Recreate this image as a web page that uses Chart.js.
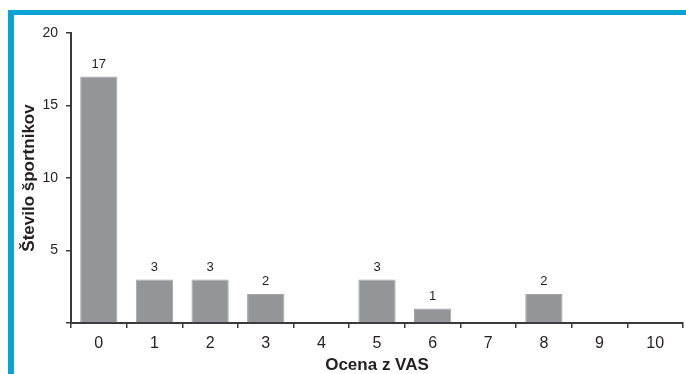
<!DOCTYPE html>
<html>
<head>
<meta charset="utf-8">
<script src="https://cdn.jsdelivr.net/npm/chart.js@4/dist/chart.umd.min.js"></script>
<style>
  html, body { margin: 0; padding: 0; background: #ffffff; }
  #wrap { position: relative; width: 686px; height: 374px; }
</style>
</head>
<body>
<div id="wrap"><canvas id="c" width="686" height="374"></canvas></div>
<script>
const categories = ['0', '1', '2', '3', '4', '5', '6', '7', '8', '9', '10'];
const counts = [17, 3, 3, 2, 0, 3, 1, 0, 2, 0, 0];
const yTicks = [0, 5, 10, 15, 20];
const xTitle = 'Ocena z VAS';
const yTitle = 'Število športnikov';

const TEXT = '#231f20';
const AXIS = '#3a3a3a';

const framePlugin = {
  id: 'frame',
  beforeDraw(chart) {
    const ctx = chart.ctx;
    ctx.save();
    ctx.fillStyle = '#0aa3d5';
    ctx.fillRect(8, 10, chart.width - 8, 5);
    ctx.fillRect(8, 10, 6, chart.height - 10);
    ctx.restore();
  }
};

const labelPlugin = {
  id: 'valueLabels',
  afterDatasetsDraw(chart) {
    const ctx = chart.ctx;
    const meta = chart.getDatasetMeta(0);
    ctx.save();
    ctx.fillStyle = TEXT;
    ctx.font = '13px "Liberation Sans", Arial, sans-serif';
    ctx.textAlign = 'center';
    ctx.textBaseline = 'alphabetic';
    meta.data.forEach((bar, i) => {
      const v = chart.data.datasets[0].data[i];
      if (!v) return;
      ctx.fillText(String(v), bar.x, bar.y - 9);
    });
    ctx.restore();
  }
};

new Chart(document.getElementById('c'), {
  type: 'bar',
  data: {
    labels: categories,
    datasets: [{
      data: counts,
      backgroundColor: '#939598',
      borderColor: '#a3a5a8',
      borderWidth: 1,
      barPercentage: 0.67,
      categoryPercentage: 1.0
    }]
  },
  options: {
    responsive: false,
    animation: false,
    devicePixelRatio: 1,
    layout: { padding: { left: 0, top: 33, right: 3, bottom: 0 } },
    plugins: { legend: { display: false }, tooltip: { enabled: false } },
    scales: {
      x: {
        offset: true,
        afterFit: s => { s.height = 51; },
        grid: {
          offset: true,
          drawOnChartArea: false,
          drawTicks: true,
          tickLength: 5,
          color: AXIS,
          lineWidth: 1.5
        },
        border: { color: AXIS, width: 2 },
        ticks: {
          color: TEXT,
          padding: 6,
          maxRotation: 0,
          font: { family: '"Liberation Sans", Arial, sans-serif', size: 16 }
        },
        title: {
          display: true,
          text: xTitle,
          color: TEXT,
          padding: { top: 0, bottom: 0 },
          font: { family: '"Liberation Sans", Arial, sans-serif', size: 17, weight: 'bold', lineHeight: 1 }
        }
      },
      y: {
        min: 0,
        max: 20,
        afterFit: s => { s.width = 71; },
        afterBuildTicks: s => { s.ticks = yTicks.map(v => ({ value: v })); },
        grid: {
          drawOnChartArea: false,
          drawTicks: true,
          tickLength: 5,
          color: AXIS,
          lineWidth: 1.5
        },
        border: { color: AXIS, width: 2 },
        ticks: {
          color: TEXT,
          padding: 8,
          callback: v => (v === 0 ? '' : String(v)),
          font: { family: '"Liberation Sans", Arial, sans-serif', size: 14 }
        },
        title: {
          display: true,
          text: yTitle,
          color: TEXT,
          padding: { top: 21, bottom: 0 },
          font: { family: '"Liberation Sans", Arial, sans-serif', size: 17, weight: 'bold', lineHeight: 1 }
        }
      }
    }
  },
  plugins: [framePlugin, labelPlugin]
});
</script>
</body>
</html>
